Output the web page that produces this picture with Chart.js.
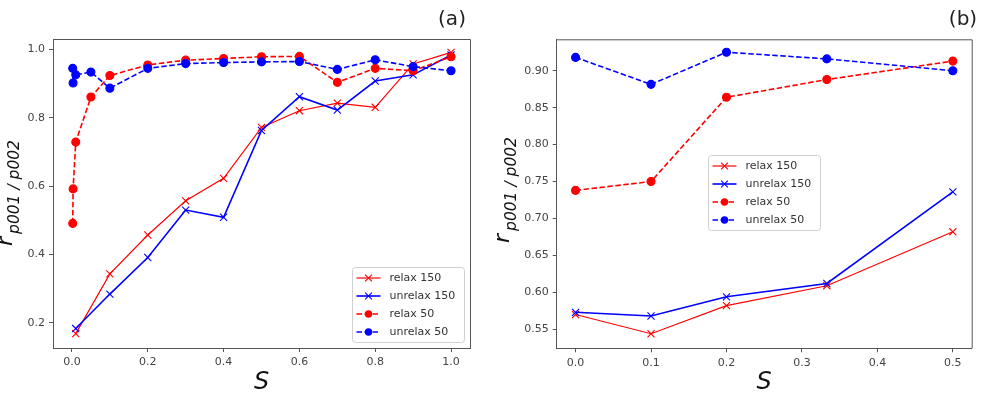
<!DOCTYPE html>
<html><head><meta charset="utf-8">
<script src="https://cdn.jsdelivr.net/npm/chart.js@4.4.0/dist/chart.umd.min.js"></script>
<style>
html,body{margin:0;padding:0;background:#fff;}
#wrap{position:relative;width:981px;height:400px;overflow:hidden;background:#fff;}
#ca{position:absolute;left:0;top:0;}
#cb{position:absolute;left:490px;top:0;}
</style></head><body>
<div id="wrap"><canvas id="ca" width="490" height="400"></canvas><canvas id="cb" width="491" height="400"></canvas></div>
<script>
// ---- Data: panel (a) ----
const seriesNames = ['relax 150', 'unrelax 150', 'relax 50', 'unrelax 50'];
const aX150 = [0.01, 0.1, 0.2, 0.3, 0.4, 0.5, 0.6, 0.7, 0.8, 0.9, 1.0];
const aRelax150 = [0.168, 0.343, 0.457, 0.557, 0.623, 0.772, 0.821, 0.843, 0.831, 0.958, 0.992];
const aUnrelax150 = [0.183, 0.284, 0.391, 0.530, 0.509, 0.763, 0.862, 0.823, 0.908, 0.926, 0.984];
const aX50 = [0.002, 0.003, 0.01, 0.05, 0.1, 0.2, 0.3, 0.4, 0.5, 0.6, 0.7, 0.8, 0.9, 1.0];
const aRelax50 = [0.491, 0.592, 0.729, 0.861, 0.924, 0.955, 0.969, 0.974, 0.979, 0.980, 0.904, 0.945, 0.938, 0.979];
const aUnrelax50 = [0.945, 0.902, 0.926, 0.934, 0.887, 0.945, 0.959, 0.962, 0.964, 0.965, 0.942, 0.970, 0.950, 0.938];
const aXTicks = [0.0, 0.2, 0.4, 0.6, 0.8, 1.0];
const aYTicks = [0.2, 0.4, 0.6, 0.8, 1.0];

// ---- Data: panel (b) ----
const bX = [0.0, 0.1, 0.2, 0.333, 0.5];
const bRelax150 = [0.570, 0.544, 0.582, 0.609, 0.682];
const bUnrelax150 = [0.573, 0.568, 0.594, 0.612, 0.736];
const bRelax50 = [0.738, 0.750, 0.864, 0.888, 0.913];
const bUnrelax50 = [0.918, 0.8815, 0.925, 0.916, 0.900];
const bXTicks = [0.0, 0.1, 0.2, 0.3, 0.4, 0.5];
const bYTicks = [0.55, 0.60, 0.65, 0.70, 0.75, 0.80, 0.85, 0.90];

const panelLabels = ['(a)', '(b)'];
const axisXTitle = 'S';
const axisYMain = 'r';
const axisYSub = 'p001 / p002';

// ---- styles ----
const RED = '#ff0000', BLUE = '#0000ff';
const styles = [
  {color: RED, dash: [], point: 'crossRot', width: 1.2},
  {color: BLUE, dash: [], point: 'crossRot', width: 1.6},
  {color: RED, dash: [5.5, 2.5], point: 'circle', width: 1.6},
  {color: BLUE, dash: [5.5, 2.5], point: 'circle', width: 1.6}
];
const FONT = '"DejaVu Sans", sans-serif';

function mk(i, xs, ys) {
  const s = styles[i];
  return {
    label: seriesNames[i],
    data: xs.map((x, k) => ({x: x, y: ys[k]})),
    borderColor: s.color, backgroundColor: s.color,
    borderWidth: s.width, borderDash: s.dash,
    pointStyle: s.point, pointRadius: s.point === 'circle' ? 4 : 5,
    pointBorderWidth: 1.1, pointBackgroundColor: s.color, pointBorderColor: s.color,
    tension: 0, fill: false, order: 4 - i
  };
}

function drawLegend(ctx, bx, by) {
  ctx.save();
  const w = 112, h = 75, r = 3;
  ctx.beginPath();
  ctx.moveTo(bx + r, by); ctx.lineTo(bx + w - r, by); ctx.arcTo(bx + w, by, bx + w, by + r, r);
  ctx.lineTo(bx + w, by + h - r); ctx.arcTo(bx + w, by + h, bx + w - r, by + h, r);
  ctx.lineTo(bx + r, by + h); ctx.arcTo(bx, by + h, bx, by + h - r, r);
  ctx.lineTo(bx, by + r); ctx.arcTo(bx, by, bx + r, by, r);
  ctx.closePath();
  ctx.fillStyle = 'rgba(255,255,255,0.85)'; ctx.fill();
  ctx.strokeStyle = '#d0d0d0'; ctx.lineWidth = 1; ctx.stroke();
  for (let i = 0; i < 4; i++) {
    const s = styles[i];
    const y = by + 10.5 + i * 18;
    const x0 = bx + 4, x1 = bx + 28, cx = (x0 + x1) / 2;
    ctx.strokeStyle = s.color; ctx.fillStyle = s.color;
    ctx.lineWidth = s.width; ctx.setLineDash(s.dash);
    ctx.beginPath(); ctx.moveTo(x0, y); ctx.lineTo(x1, y); ctx.stroke();
    ctx.setLineDash([]);
    if (s.point === 'circle') {
      ctx.beginPath(); ctx.arc(cx, y, 3.7, 0, Math.PI * 2); ctx.fill();
    } else {
      ctx.lineWidth = 1.1; const d = 3.4;
      ctx.beginPath(); ctx.moveTo(cx - d, y - d); ctx.lineTo(cx + d, y + d);
      ctx.moveTo(cx - d, y + d); ctx.lineTo(cx + d, y - d); ctx.stroke();
    }
    ctx.fillStyle = '#333'; ctx.font = '11px ' + FONT;
    ctx.textBaseline = 'middle'; ctx.textAlign = 'left';
    ctx.fillText(seriesNames[i], bx + 37, y + 0.5);
  }
  ctx.restore();
}

function decoPlugin(cfg) {
  return {
    id: 'deco' + cfg.label,
    afterDraw(chart) {
      const ctx = chart.ctx, a = chart.chartArea;
      ctx.save();
      // top & right spines
      ctx.strokeStyle = '#555'; ctx.lineWidth = 1;
      ctx.beginPath();
      ctx.moveTo(a.left, a.top + 0.5); ctx.lineTo(a.right + 0.5, a.top + 0.5);
      ctx.lineTo(a.right + 0.5, a.bottom);
      ctx.stroke();
      // panel label
      ctx.fillStyle = '#222'; ctx.font = '20px ' + FONT;
      ctx.textAlign = 'center'; ctx.textBaseline = 'middle';
      ctx.fillText(cfg.label, cfg.labelX, 20);
      // y axis label (rotated, with subscript)
      ctx.translate(cfg.yLabX, cfg.yLabY);
      ctx.rotate(-Math.PI / 2);
      ctx.textAlign = 'left'; ctx.textBaseline = 'alphabetic';
      ctx.fillStyle = '#111';
      ctx.font = 'italic 22px ' + FONT;
      ctx.fillText(axisYMain, 0, 0);
      const rw = ctx.measureText(axisYMain).width;
      ctx.font = 'italic 15.5px ' + FONT;
      ctx.fillText(axisYSub, rw + 3, 7);
      ctx.restore();
      drawLegend(ctx, cfg.legX, cfg.legY);
    }
  };
}

function makeChart(id, datasets, xr, yr, xt, yt, xdec, ydec, lay, deco) {
  return new Chart(document.getElementById(id), {
    type: 'line',
    data: {datasets: datasets},
    options: {
      responsive: false, animation: false, devicePixelRatio: 1, events: [],
      layout: {padding: {top: lay.top, right: lay.right, bottom: 0, left: 0}},
      plugins: {legend: {display: false}, tooltip: {enabled: false}},
      scales: {
        x: {
          type: 'linear', min: xr[0], max: xr[1],
          afterBuildTicks: s => { s.ticks = xt.map(v => ({value: v})); },
          afterFit: s => { s.height = lay.xh; },
          ticks: {callback: v => Number(v).toFixed(xdec), font: {family: FONT, size: 11}, color: '#444', padding: 4, maxRotation: 0, autoSkip: false},
          grid: {drawOnChartArea: false, drawTicks: true, tickLength: 4, color: '#555'},
          border: {display: true, color: '#555', width: 1},
          title: {display: true, text: axisXTitle, font: {family: FONT, size: 24, style: 'italic'}, color: '#111', padding: {top: 0, bottom: 3}}
        },
        y: {
          type: 'linear', min: yr[0], max: yr[1],
          afterBuildTicks: s => { s.ticks = yt.map(v => ({value: v})); },
          afterFit: s => { s.width = lay.yw; },
          ticks: {callback: v => Number(v).toFixed(ydec), font: {family: FONT, size: 11}, color: '#444', padding: 4, autoSkip: false},
          grid: {drawOnChartArea: false, drawTicks: true, tickLength: 4, color: '#555'},
          border: {display: true, color: '#555', width: 1}
        }
      }
    },
    plugins: [deco]
  });
}

makeChart('ca',
  [mk(0, aX150, aRelax150), mk(1, aX150, aUnrelax150), mk(2, aX50, aRelax50), mk(3, aX50, aUnrelax50)],
  [-0.05, 1.05], [0.126, 1.031], aXTicks, aYTicks, 1, 1,
  {top: 39, right: 20, xh: 52, yw: 53},
  decoPlugin({label: panelLabels[0], labelX: 452, yLabX: 12, yLabY: 246, legX: 352.5, legY: 267.5}));

makeChart('cb',
  [mk(0, bX, bRelax150), mk(1, bX, bUnrelax150), mk(2, bX, bRelax50), mk(3, bX, bUnrelax50)],
  [-0.025, 0.525], [0.5243, 0.9425], bXTicks, bYTicks, 1, 2,
  {top: 39.3, right: 9.3, xh: 51.7, yw: 66.7},
  decoPlugin({label: panelLabels[1], labelX: 473, yLabX: 19, yLabY: 243, legX: 218.5, legY: 155.5}));
</script>
</body></html>
